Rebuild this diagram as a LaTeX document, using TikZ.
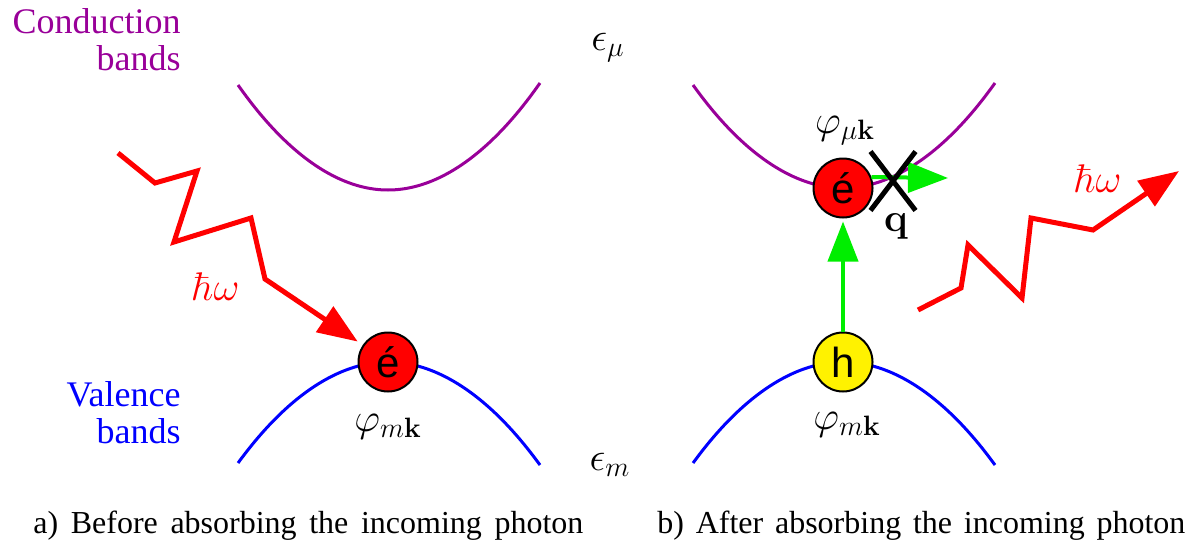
\documentclass[tikz,border=0pt]{standalone}
\usepackage{fix-cm}
\usepackage[no-math]{fontspec}
\setmainfont{Liberation Serif}
\newfontfamily\partfont{Liberation Sans}
\usetikzlibrary{arrows.meta,shapes.misc}
\definecolor{condcol}{RGB}{153,0,153}
\definecolor{valcol}{RGB}{0,0,255}
\definecolor{photcol}{RGB}{255,0,0}
\definecolor{movecol}{RGB}{0,238,0}

\begin{document}
\begin{tikzpicture}[x=0.5pt, y=-0.5pt,
    band/.style={line width=1.5pt},
    particle/.style={circle, draw, line width=1pt, minimum size=29.5pt, inner sep=0pt,
      font=\partfont\fontsize{21}{21}\selectfont},
    photon/.style={photcol, line width=2.5pt, -{Triangle[length=20pt,width=15pt]}},
    hop/.style={movecol, line width=2pt, -{Triangle[length=20pt,width=15pt]}},
    lbl/.style={inner sep=0pt, font=\fontsize{20}{20}\selectfont},
    bandname/.style={align=right, anchor=north east, inner sep=0pt,
      font=\fontsize{18}{18.5}\selectfont},
    caption/.style={anchor=base west, inner sep=0pt, font=\fontsize{16}{16}\selectfont}]
  \useasboundingbox (0,0) rectangle (1192,546);

  % a) before the photon is absorbed
  \node[bandname, condcol] (condname) at (181,8) {Conduction\\bands};
  \node[bandname, valcol] (valname) at (181,381) {Valence\\bands};
  \draw[band, condcol] (238,85) parabola bend (388,190) (540,83);
  \draw[band, valcol] (238,463) parabola bend (388,362) (540,465);
  \node[particle, fill=red] (ea) at (388,362) {é};
  \node[lbl] (phia) at (388,427) {$\varphi_{m\mathbf{k}}$};
  \coordinate (phin) at (118,153);
  \draw[photon, shorten >=3pt] (phin) -- (155,183) -- (197,171) -- (174,242)
    -- (251,218) -- (265,279) -- (ea);
  \node[lbl, photcol] (hwa) at (216,287) {$\hbar\omega$};

  % energies
  \node[lbl] (epsmu) at (608,48) {$\epsilon_\mu$};
  \node[lbl] (epsm) at (610,465) {$\epsilon_m$};

  % b) after the photon is absorbed
  \draw[band, condcol] (693,85) parabola bend (843,188) (995,83);
  \draw[band, valcol] (693,463) parabola bend (843,362) (995,465);
  \node[particle, fill=red] (eb) at (843,188) {é};
  \node[particle, fill=yellow] (hb) at (843,362) {h};
  \node[lbl] (phimu) at (845,131) {$\varphi_{\mu\mathbf{k}}$};
  \node[lbl] (phib) at (847,425) {$\varphi_{m\mathbf{k}}$};
  \draw[hop, shorten >=1.5pt] (hb) -- (eb);
  \coordinate (qtip) at (948,178);
  \draw[hop] (eb.21) -- (qtip);
  \node[cross out, draw, line width=2.5pt, minimum width=20pt, minimum height=27pt,
    inner sep=0pt] (block) at (893,181) {};
  \node[lbl] (qlbl) at (896,226) {$\mathbf{q}$};
  \coordinate (phout) at (918,310);
  \coordinate (phtip) at (1179,171);
  \draw[photon] (phout) -- (961,288) -- (968,245) -- (1022,298) -- (1031,218)
    -- (1093,230) -- (phtip);
  \node[lbl, photcol] (hwb) at (1098,179) {$\hbar\omega$};

  % captions
  \node[caption] (capa) at (33,533) {\makebox[275pt][s]{a) Before absorbing the incoming photon}};
  \node[caption] (capb) at (657,533) {\makebox[264pt][s]{b) After absorbing the incoming photon}};
\end{tikzpicture}
\end{document}
